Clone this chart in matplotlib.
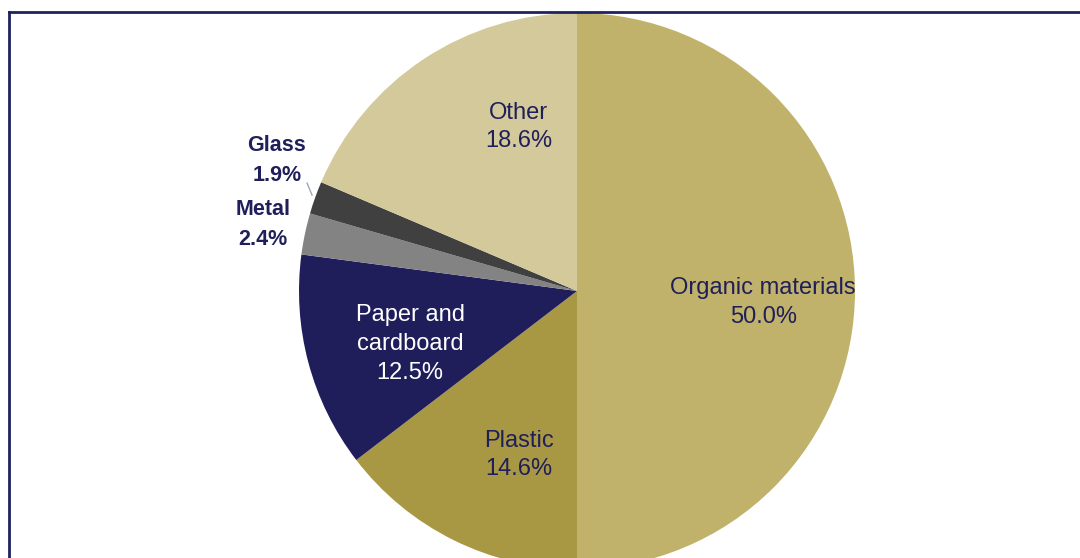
import matplotlib
matplotlib.use("Agg")
import matplotlib.pyplot as plt
from matplotlib.lines import Line2D

# waste composition, share in percent
categories = ["Organic materials", "Plastic", "Paper and\ncardboard", "Metal", "Glass", "Other"]
shares = [50.0, 14.6, 12.5, 2.4, 1.9, 18.6]

colors = ["#C0B26A", "#A99843", "#201E5A", "#838383", "#404040", "#D3C99A"]
text_colors = ["#1F1F5A", "#1F1F5A", "white", "#1F1F5A", "#1F1F5A", "#1F1F5A"]
bold = [False, False, False, True, True, False]
# label offsets from the pie centre, in radius units
label_pos = [(0.67, -0.04), (-0.21, -0.59), (-0.60, -0.19),
             (-1.13, 0.24), (-1.08, 0.47), (-0.21, 0.59)]

W, H = 1080, 558
fig = plt.figure(figsize=(W / 100, H / 100), dpi=100)
ax = fig.add_axes([0, 0, 1, 1])

cx, cy, r = 577, 267, 278
wedges, _ = ax.pie(shares, colors=colors, startangle=90, counterclock=False,
                   center=(cx, cy), radius=r, wedgeprops=dict(linewidth=0))

for cat, val, (dx, dy), tc, b in zip(categories, shares, label_pos, text_colors, bold):
    ax.text(cx + dx * r, cy + dy * r, f"{cat}\n{val:.1f}%", ha="center", va="center",
            color=tc, fontsize=15.5 if b else 17, fontweight="bold" if b else "normal",
            family="Liberation Sans", linespacing=1.55 if b else 1.4)

# little leader line for the glass slice
ax.add_line(Line2D([cx - 0.971 * r, cx - 0.953 * r], [cy + 0.388 * r, cy + 0.345 * r],
                   color="#9AA6C0", lw=1))

ax.set_xlim(0, W)
ax.set_ylim(0, H)
ax.set_aspect("equal")
ax.axis("off")

# frame lines (left and top)
fig.add_artist(Line2D([9 / W, 9 / W], [0, 1 - 12 / H], color="#1F2260", lw=2))
fig.add_artist(Line2D([9 / W, 1], [1 - 12 / H, 1 - 12 / H], color="#1F2260", lw=2))

fig.savefig("out.png", dpi=100, facecolor="white")
